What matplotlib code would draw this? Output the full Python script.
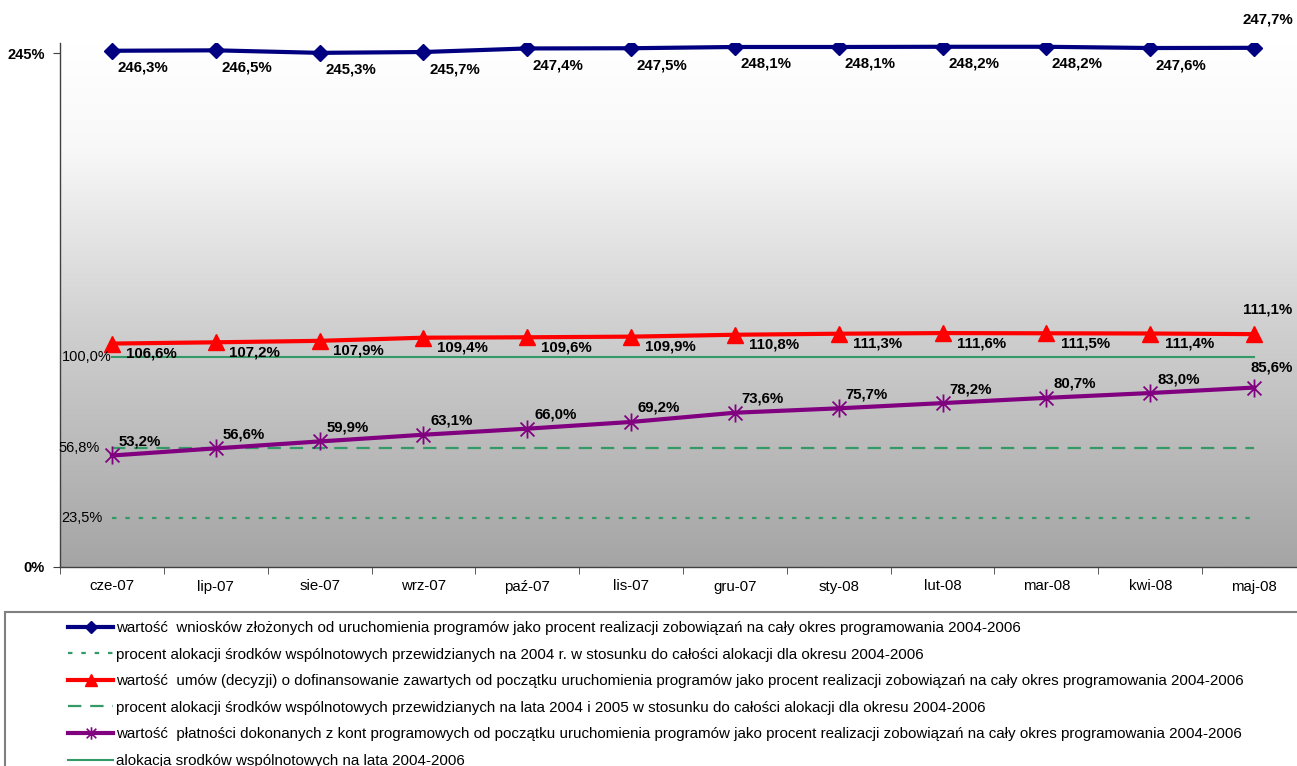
import matplotlib
matplotlib.use("Agg")
import matplotlib.pyplot as plt
import numpy as np
from matplotlib.colors import LinearSegmentedColormap
from matplotlib.path import Path
from matplotlib.patches import Rectangle

plt.rcParams["font.family"] = ["Liberation Sans", "DejaVu Sans"]

months = ["cze-07", "lip-07", "sie-07", "wrz-07", "paź-07", "lis-07",
          "gru-07", "sty-08", "lut-08", "mar-08", "kwi-08", "maj-08"]

wnioski = [246.3, 246.5, 245.3, 245.7, 247.4, 247.5, 248.1, 248.1, 248.2, 248.2, 247.6, 247.7]
umowy = [106.6, 107.2, 107.9, 109.4, 109.6, 109.9, 110.8, 111.3, 111.6, 111.5, 111.4, 111.1]
platnosci = [53.2, 56.6, 59.9, 63.1, 66.0, 69.2, 73.6, 75.7, 78.2, 80.7, 83.0, 85.6]
alok_2004 = [23.5] * 12
alok_2004_2005 = [56.8] * 12
alok_total = [100.0] * 12

labels = [
    "wartość  wniosków złożonych od uruchomienia programów jako procent realizacji zobowiązań na cały okres programowania 2004-2006",
    "procent alokacji środków wspólnotowych przewidzianych na 2004 r. w stosunku do całości alokacji dla okresu 2004-2006",
    "wartość  umów (decyzji) o dofinansowanie zawartych od początku uruchomienia programów jako procent realizacji zobowiązań na cały okres programowania 2004-2006",
    "procent alokacji środków wspólnotowych przewidzianych na lata 2004 i 2005 w stosunku do całości alokacji dla okresu 2004-2006",
    "wartość  płatności dokonanych z kont programowych od początku uruchomienia programów jako procent realizacji zobowiązań na cały okres programowania 2004-2006",
    "alokacja srodków wspólnotowych na lata 2004-2006",
]

NAVY = "#000080"
RED = "#ff0000"
PURPLE = "#800080"
GREEN = "#339966"

# asterisk marker: X plus a vertical bar
star = Path([(-1, -1), (1, 1), (-1, 1), (1, -1), (0, -1.3), (0, 1.3)],
            [Path.MOVETO, Path.LINETO, Path.MOVETO, Path.LINETO, Path.MOVETO, Path.LINETO])


def pct(v):
    return f"{v:.1f}".replace(".", ",") + "%"


W, H = 1297, 766
fig = plt.figure(figsize=(W / 100, H / 100), dpi=100)
ax = fig.add_axes([60 / W, (H - 567) / H, (1306 - 60) / W, (567 - 43) / H])
ax.set_xlim(-0.5, 11.5)
ax.set_ylim(0, 250)

grad = np.linspace(1, 0, 512).reshape(-1, 1)
cmap = LinearSegmentedColormap.from_list(
    "bg", [(0, "#a5a5a5"), (0.45, "#cfcfcf"), (0.8, "#f8f8f8"), (1, "#ffffff")])
ax.imshow(grad, cmap=cmap, aspect="auto", extent=[0, 1, 0, 1],
          transform=ax.transAxes, zorder=0)

x = np.arange(len(months))

ax.plot(x, alok_total, color=GREEN, lw=1.5, zorder=2)
ax.plot(x, alok_2004_2005, color=GREEN, lw=1.6, dashes=(6, 4), zorder=2)
ax.plot(x, alok_2004, color=GREEN, lw=1.6, dashes=(2, 4), zorder=2)
ax.plot(x, wnioski, color=NAVY, lw=3, marker="D", ms=8, zorder=3)
ax.plot(x, umowy, color=RED, lw=3, marker="^", ms=11, zorder=3)
ax.plot(x, platnosci, color=PURPLE, lw=3, marker=star, ms=13, mew=1.3,
        mfc="none", zorder=3)

bold = dict(fontsize=10.8, fontweight="bold", textcoords="offset pixels",
            ha="center", va="center", zorder=4)
for i, v in enumerate(wnioski):
    off = (14, 28) if i == len(x) - 1 else (31, -17)
    ax.annotate(pct(v), (i, v), xytext=off, **bold)
for i, v in enumerate(umowy):
    off = (14, 25) if i == len(x) - 1 else (39, -10)
    ax.annotate(pct(v), (i, v), xytext=off, **bold)
for i, v in enumerate(platnosci):
    off = (18, 20) if i == len(x) - 1 else (28, 14)
    ax.annotate(pct(v), (i, v), xytext=off, **bold)

for series, dx in [(alok_total, 0), (alok_2004_2005, -12), (alok_2004, -9)]:
    ax.annotate(pct(series[0]), (0, series[0]), xytext=(dx, 0),
                textcoords="offset pixels", ha="right", va="center",
                fontsize=10.5, zorder=4)

ax.set_yticks([0, 245])
ax.set_yticklabels(["0%", "245%"], fontweight="bold", fontsize=10.5)
ax.set_xticks(x)
ax.set_xticklabels(months, fontsize=10.8)
ax.set_xticks(np.arange(-0.5, 11.6, 1), minor=True)
ax.tick_params(axis="x", which="major", length=0, pad=9)
ax.tick_params(axis="x", which="minor", length=5, color="#404040")
ax.tick_params(axis="y", length=5, color="#404040", pad=6)
for side in ["top", "right"]:
    ax.spines[side].set_visible(False)
for side in ["left", "bottom"]:
    ax.spines[side].set_color("#404040")
    ax.spines[side].set_linewidth(1)

# legend box
fig.patches.append(Rectangle((5 / W, -0.05), 1.1, (H - 612) / H + 0.05,
                             transform=fig.transFigure, fill=False,
                             edgecolor="#808080", lw=1.5))

handles = [
    plt.Line2D([], [], color=NAVY, lw=3, marker="D", ms=6),
    plt.Line2D([], [], color=GREEN, lw=1.6, dashes=(2, 4)),
    plt.Line2D([], [], color=RED, lw=3, marker="^", ms=8),
    plt.Line2D([], [], color=GREEN, lw=1.6, dashes=(6, 4)),
    plt.Line2D([], [], color=PURPLE, lw=3, marker=star, ms=9, mew=1.2),
    plt.Line2D([], [], color=GREEN, lw=1.5),
]
fig.legend(handles, labels, loc="upper left", bbox_to_anchor=(68 / W, (H - 621) / H),
           frameon=False, fontsize=10.9, handlelength=3.0, handletextpad=0.15,
           labelspacing=0.83, borderaxespad=0, borderpad=0)

fig.savefig("out.png", dpi=100)
